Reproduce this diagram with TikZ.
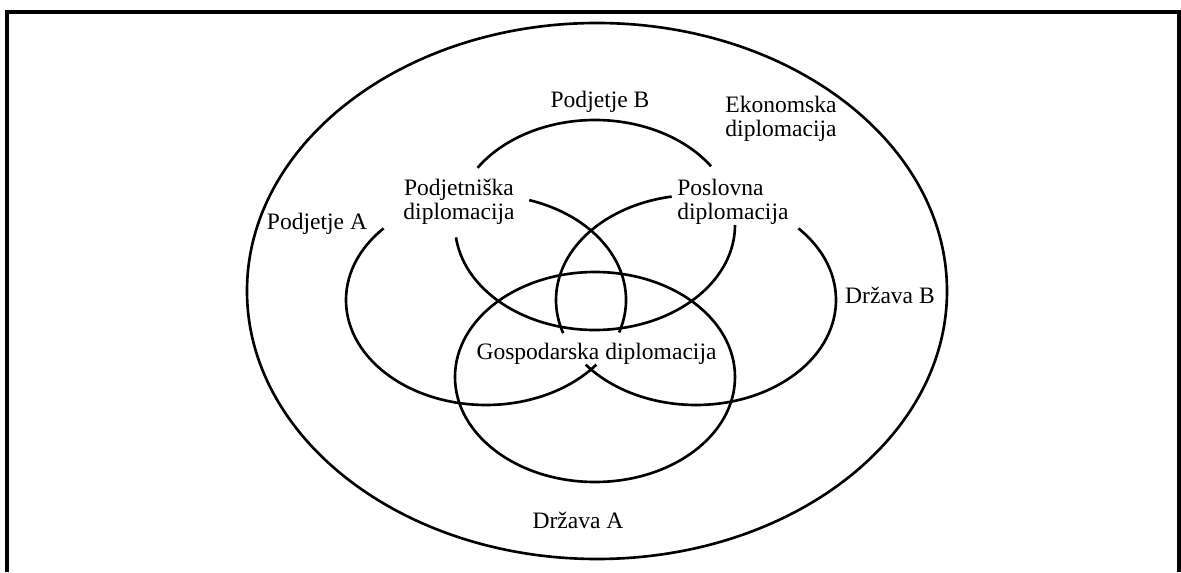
\documentclass[tikz,border=0pt]{standalone}
\usepackage{fontspec}
\setmainfont{Liberation Serif}
\tikzset{
  venn/.style={line width=1.5pt},
  lbl/.style={font=\fontsize{13.4}{13.8}\selectfont, inner sep=0pt, align=center}
}
\begin{document}
\begin{tikzpicture}[x=0.02cm, y=0.02cm]
    \useasboundingbox (0,0) rectangle (1181,572);
    \draw[line width=1.9pt] (7,0) -- (7,560) -- (1179,560) -- (1179,0);
    \coordinate (cPB) at (595,347);
    \coordinate (cPA) at (486,272);
    \coordinate (cDB) at (696,272);
    \coordinate (cGD) at (595,195);
    \draw[venn] (597,281) ellipse [x radius=350, y radius=268];
    \draw[venn] (cGD) ellipse [x radius=140, y radius=105];
    \draw[venn] (cPB) ++(34:140 and 105) arc [start angle=34, end angle=147, x radius=140, y radius=105];
    \draw[venn] (cPB) ++(186.8:140 and 105) arc [start angle=186.8, end angle=360, x radius=140, y radius=105];
    \draw[venn] (cPA) ++(72:140 and 105) arc [start angle=72, end angle=-18, x radius=140, y radius=105];
    \draw[venn] (cPA) ++(137:140 and 105) arc [start angle=137, end angle=322, x radius=140, y radius=105];
    \draw[venn] (cDB) ++(100:140 and 105) arc [start angle=100, end angle=198.4, x radius=140, y radius=105];
    \draw[venn] (cDB) ++(43:140 and 105) arc [start angle=43, end angle=-142, x radius=140, y radius=105];
    \node[lbl, anchor=base] (podjB) at (600,464) {Podjetje B};
    \node[lbl] (ekon) at (781,453.5) {Ekonomska\\diplomacija};
    \node[lbl] (podjet) at (459,370) {Podjetniška\\diplomacija};
    \node[lbl, anchor=west, align=left] (poslov) at (677,370) {Poslovna\\diplomacija};
    \node[lbl, anchor=base] (podjA) at (317,342) {Podjetje A};
    \node[lbl, anchor=base] (drzB) at (890,268) {Država B};
    \node[lbl, anchor=base] (gosp) at (596.5,212) {Gospodarska diplomacija};
    \node[lbl, anchor=base] (drzA) at (578,44) {Država A};
\end{tikzpicture}
\end{document}
